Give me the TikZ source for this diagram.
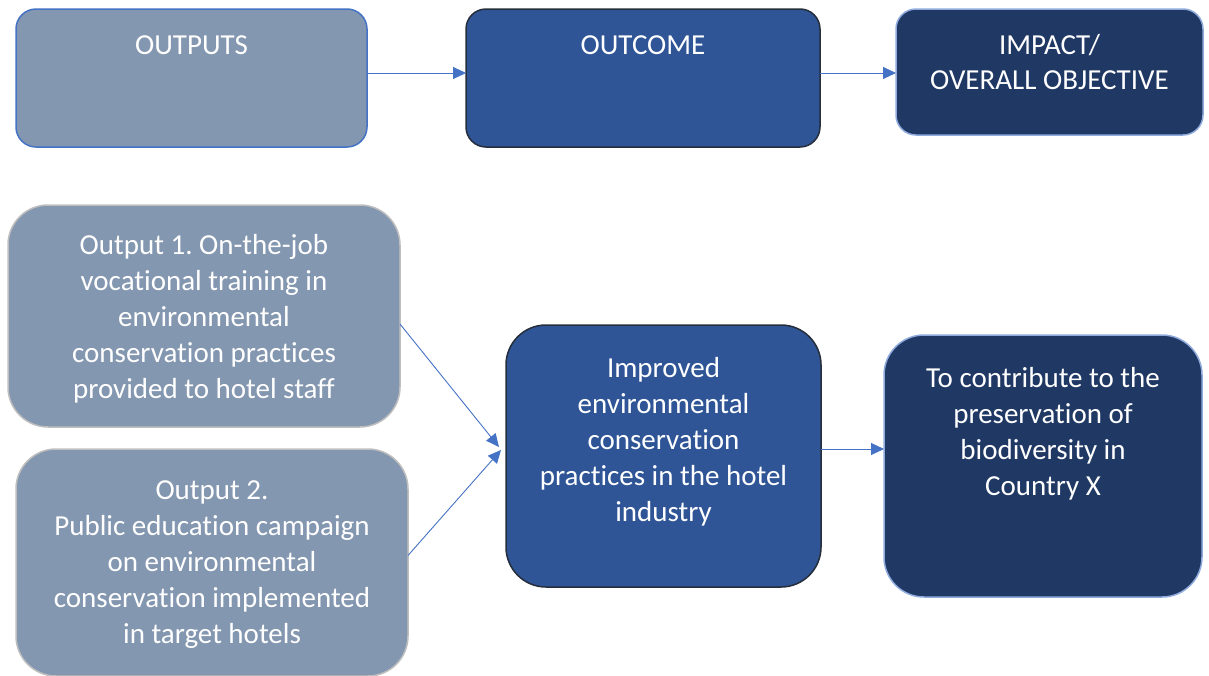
\documentclass[tikz,border=0pt]{standalone}
\usepackage{fontspec}
\setmainfont[Ligatures=NoCommon]{Carlito}
\frenchspacing
\usetikzlibrary{arrows.meta}
\definecolor{grayblue}{HTML}{8497B0}
\definecolor{midblue}{HTML}{2F5597}
\definecolor{darkblue}{HTML}{203864}
\definecolor{arrowblue}{HTML}{4472C4}
\definecolor{lightedge}{HTML}{8FAADC}
\definecolor{darkedge}{HTML}{252E3A}
\definecolor{greyedge}{HTML}{BFBFBF}
\tikzset{
  box/.style={rectangle, inner sep=0pt, outer sep=0pt, line width=1.5pt},
  topbox/.style={box, rounded corners=20pt},
  lowbox/.style={box, rounded corners=40pt},
  toptext/.style={text=white, align=center, font=\fontsize{29}{35}\selectfont, inner sep=0pt},
  lowtext/.style={text=white, align=center, font=\fontsize{29}{36}\selectfont, inner sep=0pt},
  conn/.style={draw=arrowblue, line width=0.9pt, -{Triangle[length=13pt,width=12pt]}},
}
\begin{document}
\frenchspacing
\begin{tikzpicture}[x=1pt,y=-1pt]
\useasboundingbox (0,0) rectangle (1209,675);
% top row
\node[topbox, fill=grayblue, draw=arrowblue, minimum width=351pt, minimum height=138pt] (outputs) at (191.5,78) {};
\node[topbox, fill=midblue, draw=darkedge, minimum width=354pt, minimum height=138pt] (outcome) at (643,78) {};
\node[topbox, fill=darkblue, draw=lightedge, minimum width=307pt, minimum height=126pt] (impact) at (1049.5,72) {};
\node[toptext] (toutputs) at (191.5,45) {OUTPUTS};
\node[toptext] (toutcome) at (643,45) {OUTCOME};
\node[toptext] (timpact) at (1049.5,62.5) {IMPACT/\\OVERALL OBJECTIVE};
% lower row
\node[lowbox, fill=grayblue, draw=greyedge, minimum width=392pt, minimum height=222pt] (out1) at (204,316) {};
\node[lowbox, fill=grayblue, draw=greyedge, minimum width=392pt, minimum height=227pt] (out2) at (212,562.5) {};
\node[lowbox, fill=midblue, draw=darkedge, minimum width=315pt, minimum height=262pt] (improved) at (663.5,456) {};
\node[lowbox, fill=darkblue, draw=lightedge, minimum width=318pt, minimum height=262pt] (contrib) at (1043,466) {};
\node[lowtext] (tout1) at (204,319) {Output 1. On-the-job\\vocational training in\\environmental\\conservation practices\\provided to hotel staff};
\node[lowtext] (tout2) at (212,565) {Output 2.\\Public education campaign\\on environmental\\conservation implemented\\in target hotels};
\node[lowtext] (timproved) at (663.5,442) {Improved\\environmental\\conservation\\practices in the hotel\\industry};
\node[lowtext] (tcontrib) at (1043,434) {To contribute to the\\preservation of\\biodiversity in\\Country X};
% connectors
\coordinate (ytop) at (0,73);
\draw[conn] (outputs.east |- ytop) -- (outcome.west |- ytop);
\draw[conn] (outcome.east |- ytop) -- (impact.west |- ytop);
\draw[conn] ([yshift=-8pt]out1.east) -- ([xshift=-7pt,yshift=9pt]improved.west);
\draw[conn] ([yshift=7pt]out2.east) -- ([xshift=-5pt,yshift=6pt]improved.west);
\draw[conn] ([yshift=7pt]improved.east) -- ([yshift=7pt]improved.east -| contrib.west);
\end{tikzpicture}
\end{document}
